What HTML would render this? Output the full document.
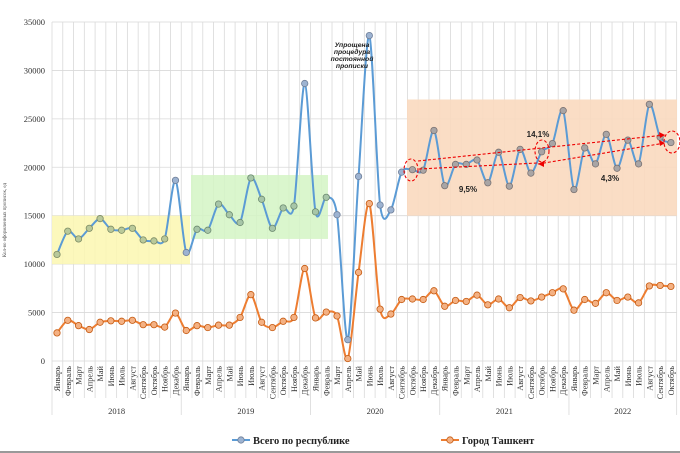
<!DOCTYPE html><html><head><meta charset="utf-8"><style>
body{margin:0;background:#fff;width:680px;height:453px;overflow:hidden}
svg{display:block;font-family:"Liberation Serif",serif}
</style></head><body>
<svg id="s" width="680" height="453" xmlns="http://www.w3.org/2000/svg"></svg>
<script>
const B=[11000,13400,12600,13700,14700,13600,13500,13700,12500,12400,12600,18650,
11200,13600,13500,16200,15100,14300,18900,16700,13700,15800,16000,28650,
15400,16900,15100,2200,19050,33600,16100,15600,19500,19750,19700,23800,
18100,20300,20300,20750,18400,21550,18050,21850,19400,21600,22450,25850,
17700,22000,20350,23400,19900,22800,20350,26500,23100,22550];
const O=[2900,4200,3650,3250,4000,4150,4100,4200,3750,3750,3500,4950,
3150,3650,3450,3700,3700,4500,6850,4000,3450,4100,4500,9550,
4450,5050,4650,250,9150,16250,5350,4850,6350,6400,6350,7250,
5650,6250,6150,6800,5800,6400,5500,6550,6200,6600,7050,7450,
5250,6350,5950,7050,6250,6600,6000,7750,7800,7700];
const M=["Январь","Февраль","Март","Апрель","Май","Июнь","Июль","Август","Сентябрь","Октябрь","Ноябрь","Декабрь"];
const X=i=>57+i*10.77, Y=v=>361-v*0.009686;
let h='';
for(let v=0;v<=35000;v+=5000){h+=`<line x1="52" x2="677" y1="${Y(v)}" y2="${Y(v)}" stroke="#d9d9d9" stroke-width="0.8"/><text x="45" y="${Y(v)+3}" font-size="8.5" text-anchor="end" fill="#333">${v}</text>`;}
for(let i=0;i<=58;i++){const x=52+i*10.77;h+=`<line x1="${x}" x2="${x}" y1="22" y2="${i%12==0||i==58?415:398}" stroke="#d9d9d9" stroke-width="0.8"/>`;}
h+=`<rect x="52" y="${Y(15000)}" width="138" height="${Y(10000)-Y(15000)}" fill="#fbf7b0" opacity="0.85"/>`;
h+=`<rect x="191" y="${Y(19200)}" width="137" height="${Y(12600)-Y(19200)}" fill="#d4f5c4" opacity="0.85"/>`;
h+=`<rect x="407" y="${Y(27000)}" width="270" height="${Y(15000)-Y(27000)}" fill="#fad9bf" opacity="0.9"/>`;
function path(d){let p=d.map((v,i)=>[X(i),Y(v)]);let s=`M${p[0][0]},${p[0][1]}`;const k=7;
for(let i=0;i<p.length-1;i++){const a=p[Math.max(i-1,0)],b=p[i],c=p[i+1],e=p[Math.min(i+2,p.length-1)];
s+=`C${b[0]+(c[0]-a[0])/k},${b[1]+(c[1]-a[1])/k} ${c[0]-(e[0]-b[0])/k},${c[1]-(e[1]-b[1])/k} ${c[0]},${c[1]}`;}return s;}
h+=`<path d="${path(O)}" fill="none" stroke="#ed7d31" stroke-width="2"/>`;
h+=`<path d="${path(B)}" fill="none" stroke="#5b9bd5" stroke-width="2"/>`;
O.forEach((v,i)=>h+=`<circle cx="${X(i)}" cy="${Y(v)}" r="3.2" fill="#f4b183" stroke="#c55a11" stroke-width="0.8"/>`);
B.forEach((v,i)=>{let f='#9db3d1',st='#6f7f99';if(i<11){f='#b9c99a';st='#7d8c65'}else if(i>=13&&i<=25&&i!=23){f='#a7c6a8';st='#6c8a70'}else if(i>=33){f='#a9a5a5';st='#7a7272'}
h+=`<circle cx="${X(i)}" cy="${Y(v)}" r="3.2" fill="${f}" stroke="${st}" stroke-width="0.8"/>`;});
for(let i=0;i<58;i++){h+=`<text transform="translate(${X(i)+3},366) rotate(-90)" font-size="8.3" text-anchor="end" fill="#333">${M[i%12]}</text>`;}
[2018,2019,2020,2021,2022].forEach((y,k)=>{const c=k<4?52+(k*12+6)*10.77:52+(48+5)*10.77;h+=`<text x="${c}" y="414" font-size="8.5" text-anchor="middle" fill="#333">${y}</text>`;});
h+=`<g font-family="Liberation Sans,sans-serif" font-style="italic" font-weight="bold" font-size="6.8" fill="#222" text-anchor="middle"><text x="352" y="47">Упрощена</text><text x="352" y="54">процедура</text><text x="352" y="61">постоянной</text><text x="352" y="68">прописки</text></g>`;
h+=`<g stroke="#e00" stroke-width="1.1" stroke-dasharray="3,2" fill="none"><line x1="418" y1="161" x2="665" y2="135"/><line x1="419" y1="169" x2="537" y2="163"/><line x1="538" y1="164" x2="665" y2="143"/><ellipse cx="411" cy="170" rx="7" ry="11"/><ellipse cx="542" cy="151" rx="7" ry="11"/><ellipse cx="672" cy="142" rx="8" ry="11"/></g>`;
h+=`<g fill="#e00"><polygon points="665,135 659,132 660,138"/><polygon points="665,143 659,140 660,146"/><polygon points="538,164 544,161 544,167"/></g>`;
h+=`<g font-family="Liberation Sans,sans-serif" font-weight="bold" font-size="8" fill="#222"><text x="468" y="192" text-anchor="middle">9,5%</text><text x="538" y="137" text-anchor="middle">14,1%</text><text x="610" y="181" text-anchor="middle">4,3%</text></g>`;
h+=`<text transform="translate(6,220) rotate(-90)" font-size="5" text-anchor="middle" fill="#444">Кол-во оформленных прописок, ед</text>`;
h+=`<line x1="232" x2="250" y1="440" y2="440" stroke="#5b9bd5" stroke-width="2"/><circle cx="241" cy="440" r="3.2" fill="#9db3d1" stroke="#6f7f99" stroke-width="0.8"/><text x="253" y="444" font-size="10.5" font-weight="bold" fill="#222">Всего по республике</text>`;
h+=`<line x1="441" x2="459" y1="440" y2="440" stroke="#ed7d31" stroke-width="2"/><circle cx="450" cy="440" r="3.2" fill="#f4b183" stroke="#c55a11" stroke-width="0.8"/><text x="462" y="444" font-size="10.5" font-weight="bold" fill="#222">Город Ташкент</text>`;
h+=`<rect x="0" y="451" width="680" height="2" fill="#999"/>`;
document.getElementById('s').innerHTML=h;
</script></body></html>
